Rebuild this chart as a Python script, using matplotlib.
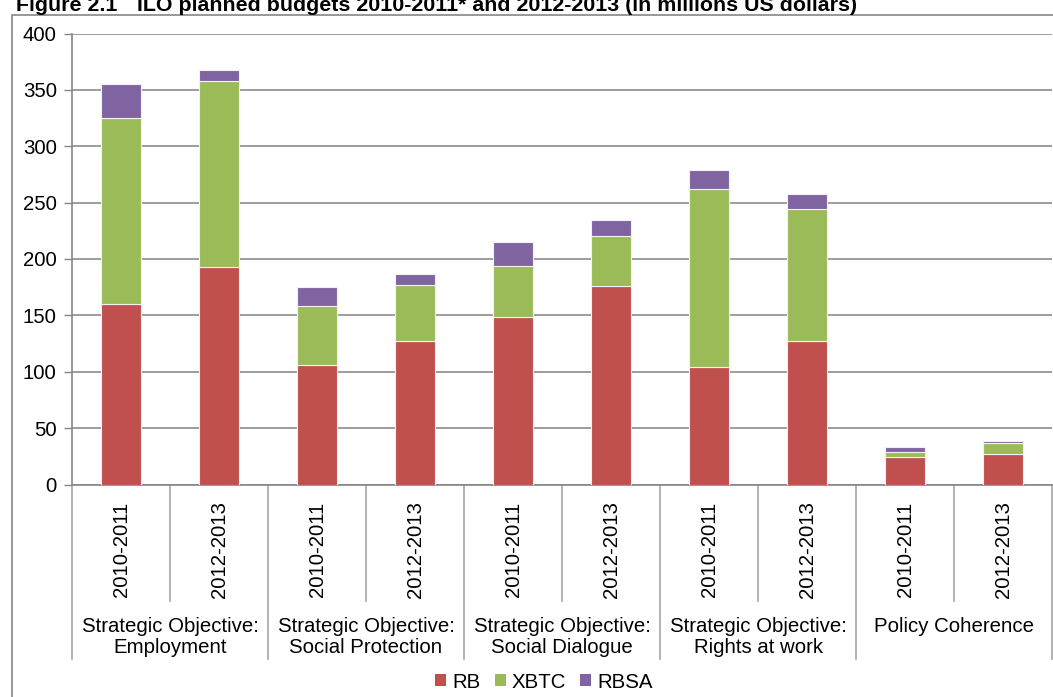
import matplotlib
matplotlib.use("Agg")
import matplotlib.pyplot as plt
from matplotlib.patches import Rectangle, Patch
import numpy as np

plt.rcParams['font.family'] = ['Liberation Sans', 'DejaVu Sans']

periods = ["2010-2011", "2012-2013"] * 5
groups = ["Strategic Objective:\nEmployment",
          "Strategic Objective:\nSocial Protection",
          "Strategic Objective:\nSocial Dialogue",
          "Strategic Objective:\nRights at work",
          "Policy Coherence"]
rb = [160, 193, 106, 127, 149, 176, 104, 127, 24, 27]
xbtc = [165, 165, 52.5, 49.5, 45, 44.5, 158, 117, 5, 10]
rbsa = [30, 10, 17, 10.5, 21.5, 14, 17, 14, 4.5, 2]
series_names = ["RB", "XBTC", "RBSA"]
colors = ["#C0504D", "#9BBB59", "#8064A2"]
yticks = [0, 50, 100, 150, 200, 250, 300, 350, 400]

FS = 14.7
W, H = 1053, 697
fig = plt.figure(figsize=(W / 100, H / 100), dpi=100)
ax = fig.add_axes([72 / W, 1 - 484.5 / H, 980 / W, 451 / H])

x = np.arange(len(rb))
bw = 0.40
bottom = np.zeros(len(rb))
for vals, c in zip([rb, xbtc, rbsa], colors):
    ax.bar(x, vals, bw, bottom=bottom, color=c, edgecolor="#f2f2f2",
           linewidth=0.8, zorder=3)
    bottom += np.array(vals)

ax.set_xlim(-0.5, len(rb) - 0.5)
ax.set_ylim(0, 400)
ax.set_yticks(yticks)
ax.tick_params(axis="y", length=6, width=1, color="#868686",
               labelsize=FS, pad=5)
ax.set_xticks([])
ax.grid(axis="y", color="#8c8c8c", linewidth=1.2, zorder=0)
for s in ["top", "right"]:
    ax.spines[s].set_visible(False)
for s in ["left", "bottom"]:
    ax.spines[s].set_color("#868686")
    ax.spines[s].set_linewidth(1.2)

# category axis: period labels, separators and group labels
trans = ax.get_xaxis_transform()
px = 1 / 451
for i, p in enumerate(periods):
    ax.text(i, -17 * px, p, rotation=90, ha="center", va="top",
            fontsize=FS, transform=trans, color="#000000")
for k in range(len(groups)):
    ax.plot([2 * k + 0.5] * 2, [0, -116 * px], transform=trans,
            color="#a6a6a6", lw=1.2, clip_on=False)
for b in np.arange(-0.5, len(rb), 2):
    ax.plot([b, b], [0, -174 * px], transform=trans,
            color="#a6a6a6", lw=1.2, clip_on=False)
for k, g in enumerate(groups):
    ax.text(2 * k + 0.5, -132 * px, g, ha="center", va="top",
            fontsize=FS, transform=trans, linespacing=1.15)

handles = [Patch(facecolor=c, edgecolor="none") for c in colors]
fig.legend(handles, series_names, loc="center", ncol=3,
           bbox_to_anchor=(544 / W, 1 - 682 / H), frameon=False,
           fontsize=FS, handlelength=0.54, handleheight=0.54,
           handletextpad=0.3, columnspacing=0.7)

# outer chart frame
fig.patches.append(Rectangle((12 / W, -0.02), 1.05, 1 - 15 / H + 0.02,
                             transform=fig.transFigure, fill=False,
                             edgecolor="#868686", linewidth=1.2))

fig.text(16 / W, 1 - 11 / H, "Figure 2.1", fontsize=15.4, fontweight="bold",
         ha="left", va="baseline")
fig.text(137 / W, 1 - 11 / H,
         "ILO planned budgets 2010-2011* and 2012-2013 "
         "(in millions US dollars)",
         fontsize=15.4, fontweight="bold", ha="left", va="baseline")

fig.savefig("out.png", dpi=100)
